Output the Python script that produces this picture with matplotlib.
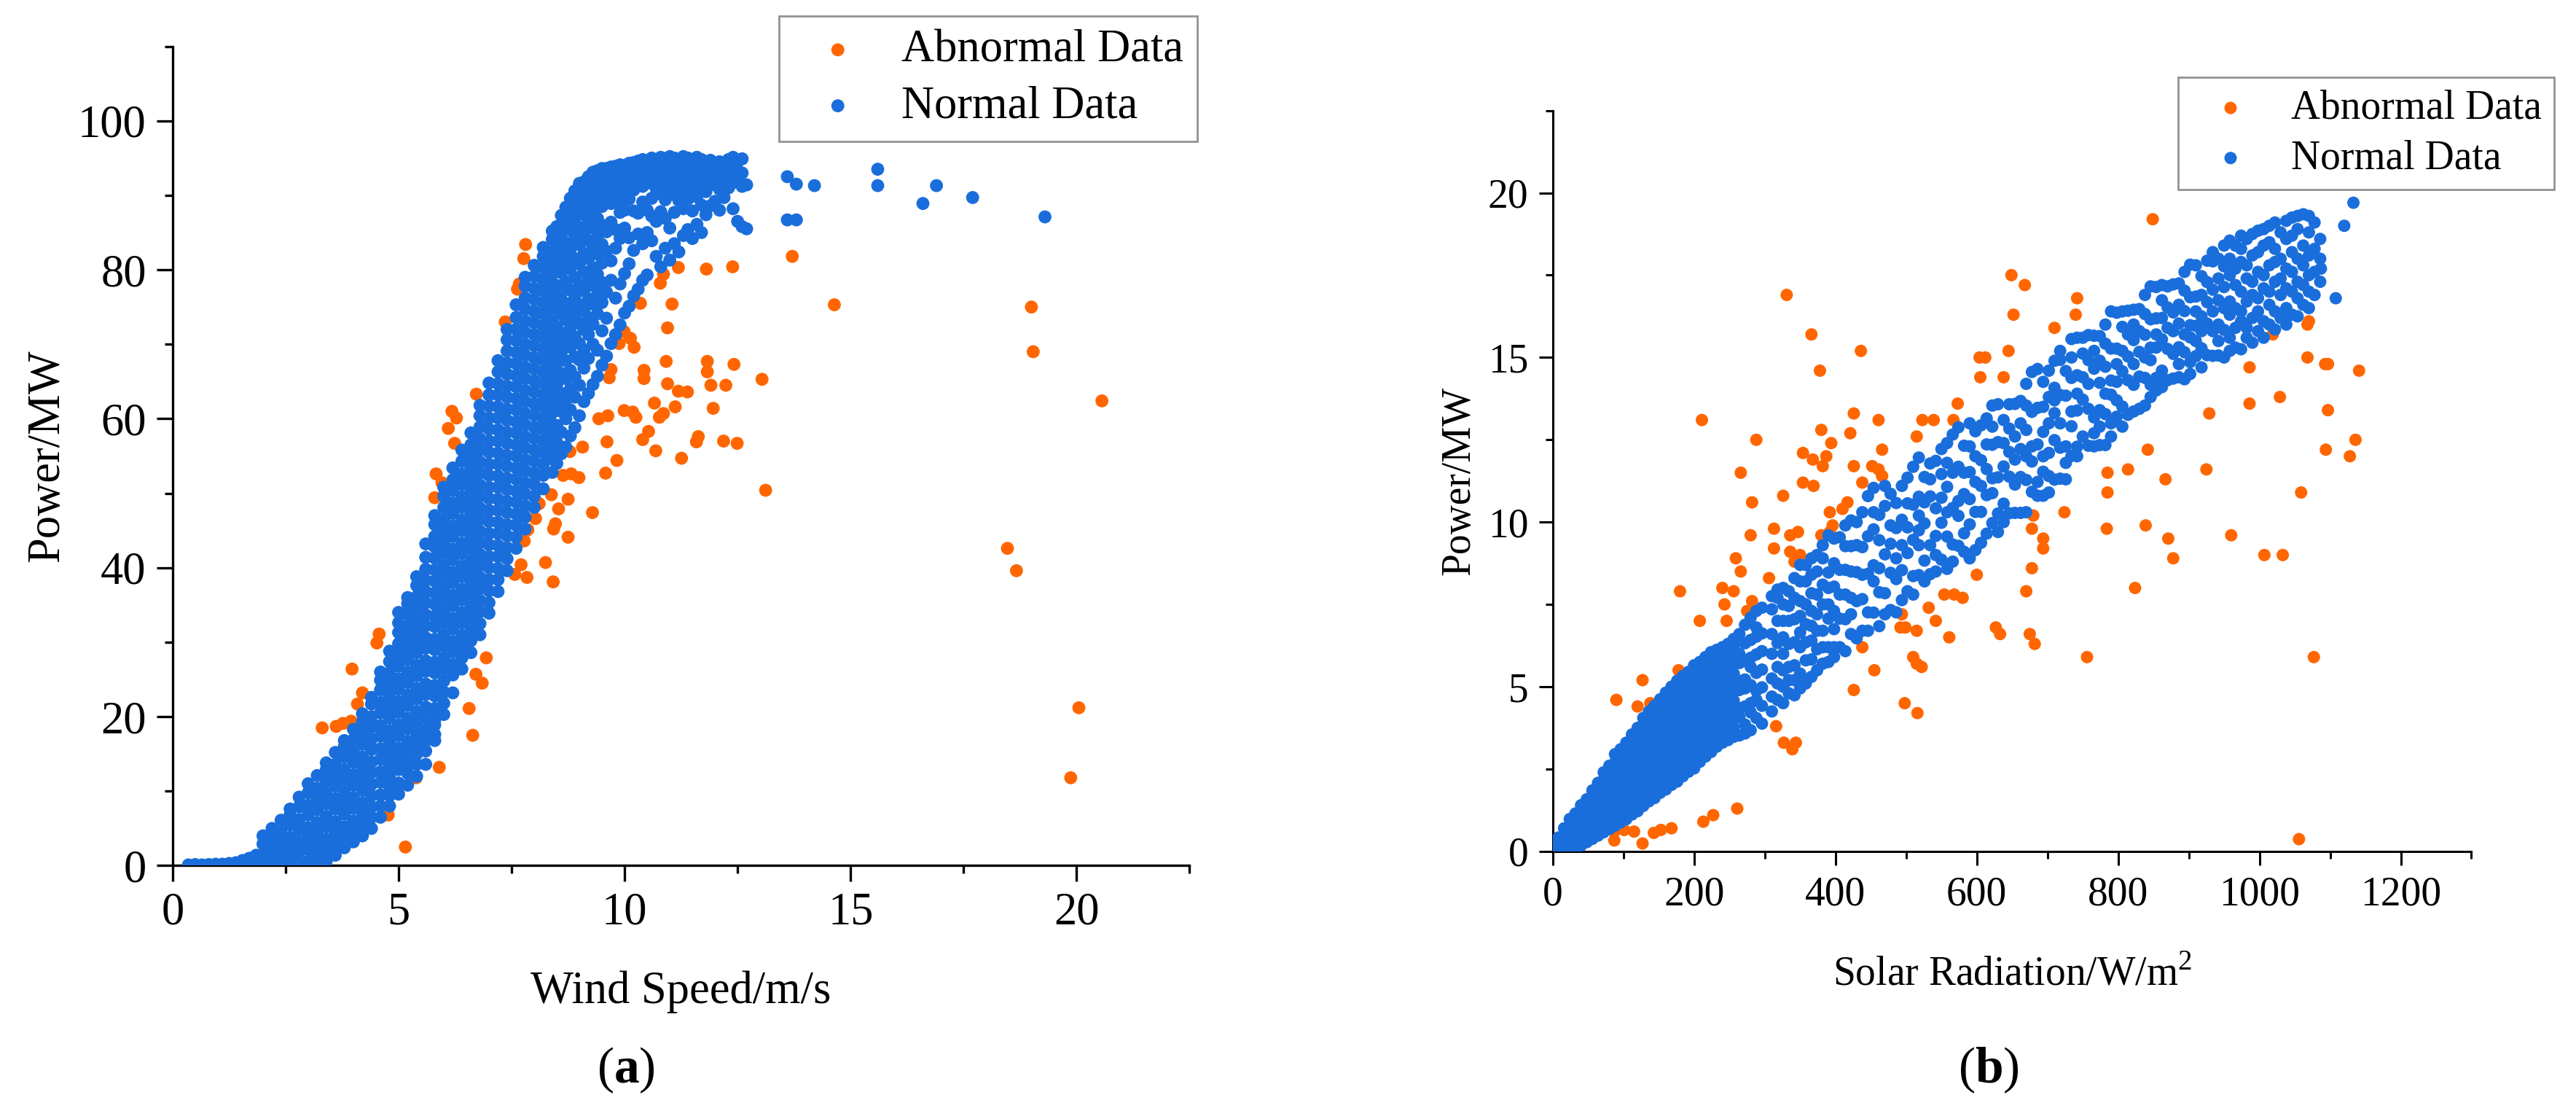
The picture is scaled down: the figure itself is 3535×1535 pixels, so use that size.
import matplotlib
matplotlib.use("Agg")
import matplotlib.pyplot as plt
from matplotlib.ticker import FixedLocator

plt.rcParams["font.family"] = ["Liberation Serif", "DejaVu Serif"]
plt.rcParams["mathtext.fontset"] = "custom"
plt.rcParams["mathtext.rm"] = "Liberation Serif"
plt.rcParams["mathtext.bf"] = "Liberation Serif:bold"

ORANGE = "#FF6600"
BLUE = "#1A6EDB"

# ---- (a) wind farm: wind speed (m/s) vs power (MW) ----
# abnormal points
wind_abnormal = [
    (3.31, 18.5), (3.62, 18.7), (3.77, 19.1), (3.95, 19.4), (4.09, 21.7), (4.20, 23.2),
    (3.97, 26.4), (4.52, 29.9), (4.57, 31.1), (4.77, 6.8), (5.15, 2.5), (5.39, 11.8),
    (5.90, 13.2), (6.64, 17.5), (6.56, 21.1), (6.85, 24.5), (6.71, 25.7), (6.94, 27.9),
    (5.80, 49.4), (5.96, 51.4), (5.83, 52.6), (6.24, 56.7), (6.10, 58.7), (6.18, 61.0),
    (6.28, 60.1), (6.72, 63.3), (7.36, 73.0), (7.63, 77.4), (7.67, 78.1), (7.77, 81.5),
    (7.81, 83.4), (7.57, 39.1), (7.71, 40.4), (7.84, 38.7), (8.25, 40.7), (8.42, 38.1),
    (7.78, 43.6), (7.86, 45.1), (8.03, 46.6), (8.11, 48.6), (8.38, 49.8), (8.43, 45.2),
    (8.47, 45.9), (8.54, 47.9), (8.75, 49.2), (8.75, 44.1), (8.64, 52.4), (8.82, 52.6),
    (8.99, 52.1), (8.79, 55.6), (9.07, 56.2), (9.29, 47.4), (9.58, 52.7), (9.61, 56.9),
    (9.83, 54.4), (10.40, 57.2), (10.69, 55.7), (10.53, 58.3), (9.43, 60.0), (9.63, 60.4),
    (9.66, 65.5), (9.70, 66.6), (9.88, 70.1), (9.99, 71.7), (10.13, 70.8), (10.21, 69.6),
    (9.99, 61.1), (10.18, 60.9), (10.25, 60.2), (10.43, 65.4), (10.43, 66.5), (10.66, 62.1),
    (10.77, 60.2), (10.86, 60.7), (10.35, 75.5), (10.79, 78.2), (10.86, 79.4), (11.19, 80.3),
    (11.05, 75.4), (10.95, 72.2), (10.92, 67.7), (10.95, 64.7), (11.12, 61.6), (11.19, 63.7),
    (11.26, 54.7), (11.39, 63.6), (11.59, 56.9), (11.63, 57.6), (11.96, 61.4), (11.91, 64.5),
    (11.83, 66.3), (11.83, 67.7), (12.24, 64.5), (12.19, 57.0), (12.49, 56.7), (12.42, 67.3),
    (11.81, 80.1), (12.39, 80.4), (13.04, 65.3), (13.12, 50.4), (13.71, 81.8), (14.64, 75.3),
    (19.00, 75.0), (19.04, 69.0), (20.56, 62.4), (18.47, 42.6), (18.67, 39.6), (20.05, 21.2),
    (19.87, 11.8),
]

# normal points below cut-in
wind_tail = [
    (0.35, 0.1), (0.5, 0.15), (0.65, 0.1), (0.8, 0.15), (0.95, 0.2), (1.1, 0.2), (1.25, 0.3),
    (1.4, 0.4), (1.5, 0.1), (1.55, 0.7), (1.65, 0.3), (1.7, 1.0), (1.8, 0.2), (1.85, 1.4),
    (1.9, 0.6),
]

# normal points, rising part: speed bins and the powers seen in each bin
wind_bins_rise = [2.0, 2.2, 2.4, 2.6, 2.8, 3.0, 3.2, 3.4, 3.6, 3.8, 4.0, 4.2, 4.4, 4.6,
                  4.8, 5.0, 5.2, 5.4, 5.6, 5.8]
wind_pow_rise = [
    [0.2, 1.4, 2.9, 4.0],
    [0.1, 0.9, 2.2, 3.8, 5.0],
    [0.2, 1.7, 3.0, 4.5, 6.1],
    [0.1, 1.0, 2.5, 3.8, 5.5, 6.8, 7.6],
    [0.3, 1.8, 3.1, 4.7, 6.2, 7.9, 9.2],
    [0.2, 0.6, 2.2, 3.6, 5.1, 6.8, 8.1, 9.8, 11.0],
    [0.2, 1.3, 2.9, 4.4, 5.8, 7.5, 9.0, 10.4, 12.1],
    [0.6, 2.0, 3.5, 5.2, 6.6, 8.3, 9.7, 11.3, 12.9, 13.8],
    [1.4, 2.9, 4.3, 5.9, 7.6, 9.0, 10.7, 12.1, 13.6, 15.2],
    [2.4, 3.8, 5.2, 6.9, 8.3, 9.9, 11.5, 12.9, 14.6, 16.0, 16.8],
    [3.2, 4.6, 6.0, 7.7, 9.1, 10.8, 12.2, 13.9, 15.3, 16.9, 18.3],
    [4.0, 5.5, 7.0, 8.4, 10.1, 11.5, 13.1, 14.6, 16.3, 17.7, 19.3, 20.4],
    [5.0, 6.5, 7.9, 9.4, 10.9, 12.5, 13.9, 15.6, 17.0, 18.6, 20.0, 21.7, 22.6],
    [6.5, 8.0, 9.5, 11.2, 12.6, 14.3, 15.7, 17.4, 18.8, 20.5, 21.9, 23.6, 24.9, 26.0],
    [8.0, 9.4, 10.6, 12.1, 13.5, 15.1, 16.7, 18.1, 19.8, 21.2, 22.8, 24.3, 25.9, 27.4, 28.8],
    [9.6, 11.1, 12.9, 14.3, 15.8, 17.5, 18.9, 20.6, 22.0, 23.7, 25.1, 26.8, 28.2, 29.8, 31.3,
     32.6, 34.0],
    [10.8, 12.4, 13.8, 15.3, 16.7, 18.4, 19.8, 21.5, 22.9, 24.6, 26.0, 27.7, 29.1, 30.7, 32.2,
     33.8, 35.2, 36.0],
    [12.0, 13.6, 15.0, 16.2, 17.7, 19.3, 20.7, 22.4, 23.8, 25.5, 26.9, 28.6, 30.0, 31.6, 33.1,
     34.7, 36.1, 37.6, 38.8],
    [13.6, 15.4, 16.8, 18.3, 19.9, 21.3, 23.0, 24.4, 26.1, 27.5, 29.2, 30.6, 32.2, 33.7, 35.3,
     36.8, 38.3, 39.8, 41.4, 43.2],
    [16.8, 17.6, 18.9, 19.6, 21.1, 22.8, 24.2, 25.9, 27.3, 29.0, 30.4, 32.1, 33.5, 35.1, 36.6,
     38.2, 39.7, 41.3, 42.8, 44.2, 45.8, 47.0],
]

wind_bins_mid = [6.0, 6.2, 6.4, 6.6, 6.8, 7.0, 7.2, 7.4, 7.6, 7.8, 8.0, 8.2, 8.4]
wind_pow_mid = [
    [20.3, 21.8, 23.3, 24.8, 26.4, 27.9, 29.5, 31.0, 32.6, 34.1, 35.7, 37.2, 38.8, 40.3, 41.9,
     43.4, 45.0, 46.5, 48.1, 49.6, 50.8],
    [23.2, 25.6, 27.0, 28.7, 30.1, 31.8, 33.2, 34.9, 36.3, 38.0, 39.4, 41.1, 42.5, 44.2, 45.6,
     47.3, 48.7, 50.4, 51.8, 53.4],
    [26.4, 27.9, 29.5, 30.9, 32.6, 34.0, 35.7, 37.1, 38.8, 40.2, 41.9, 43.3, 45.0, 46.4, 48.1,
     49.5, 51.2, 52.6, 54.3, 55.8],
    [28.6, 30.2, 31.7, 33.3, 34.8, 36.4, 37.9, 39.5, 41.0, 42.6, 44.1, 45.7, 47.2, 48.8, 50.3,
     51.9, 53.4, 55.0, 56.5, 58.1],
    [31.0, 32.5, 34.1, 35.6, 37.2, 38.7, 40.3, 41.8, 43.4, 44.9, 46.5, 48.0, 49.6, 51.1, 52.7,
     54.2, 55.8, 57.3, 58.9, 60.4, 61.8],
    [33.9, 35.3, 36.9, 38.4, 40.0, 41.5, 43.1, 44.6, 46.2, 47.7, 49.3, 50.8, 52.4, 53.9, 55.5,
     57.0, 58.6, 60.1, 61.7, 63.2, 64.8],
    [36.8, 38.4, 39.9, 41.5, 43.0, 44.6, 46.1, 47.7, 49.2, 50.8, 52.3, 53.9, 55.4, 57.0, 58.5,
     60.1, 61.6, 63.2, 64.7, 66.3, 67.8],
    [39.6, 41.2, 42.7, 44.3, 45.8, 47.4, 48.9, 50.5, 52.0, 53.6, 55.1, 56.7, 58.2, 59.8, 61.3,
     62.9, 64.4, 66.0, 67.5, 69.1, 70.6, 72.0],
    [42.6, 44.1, 45.7, 47.2, 48.8, 50.3, 51.9, 53.4, 55.0, 56.5, 58.1, 59.6, 61.2, 62.7, 64.3,
     65.8, 67.4, 68.9, 70.5, 72.0, 73.6, 75.3],
    [45.2, 46.8, 48.3, 49.9, 51.4, 53.0, 54.5, 56.1, 57.6, 59.2, 60.7, 62.3, 63.8, 65.4, 66.9,
     68.5, 70.0, 71.6, 73.1, 74.7, 76.2, 77.8, 79.0],
    [48.1, 49.6, 51.2, 52.7, 54.3, 55.8, 57.4, 58.9, 60.5, 62.0, 63.6, 65.1, 66.7, 68.2, 69.8,
     71.3, 72.9, 74.4, 76.0, 77.5, 79.1, 80.6],
    [50.6, 52.4, 53.9, 55.5, 57.0, 58.6, 60.1, 61.7, 63.2, 64.8, 66.3, 67.9, 69.4, 71.0, 72.5,
     74.1, 75.6, 77.2, 78.7, 80.3, 81.8, 83.0],
    [52.8, 54.6, 56.2, 57.7, 59.3, 60.8, 62.4, 63.9, 65.5, 67.0, 68.6, 70.1, 71.7, 73.2, 74.8,
     76.3, 77.9, 79.4, 81.0, 82.5, 84.1, 85.2],
]

wind_bins_top = [8.5, 8.6, 8.7, 8.8, 8.9, 9.0, 9.1, 9.2, 9.3, 9.4, 9.5, 9.6, 9.7, 9.8, 9.9,
                 10.0, 10.1, 10.2, 10.3, 10.4, 10.5, 10.6, 10.7, 10.8, 10.9, 11.0, 11.1, 11.2,
                 11.3, 11.4, 11.5, 11.6, 11.7, 11.8, 11.9, 12.0, 12.1, 12.2, 12.3, 12.4, 12.5,
                 12.6, 12.7]
wind_pow_top = [
    [54.0, 56.8, 59.1, 62.3, 64.6, 67.5, 70.2, 72.4, 75.6, 77.9, 80.7, 83.1, 85.8],
    [55.3, 58.2, 61.0, 63.4, 66.1, 69.0, 71.5, 74.1, 76.8, 79.6, 82.0, 84.7, 87.3],
    [56.2, 60.0, 62.5, 65.4, 67.8, 70.6, 73.3, 75.5, 78.4, 81.2, 83.6, 86.2, 88.4],
    [57.7, 61.2, 64.0, 66.5, 69.6, 72.2, 74.8, 77.3, 80.1, 82.7, 85.3, 87.8, 89.6],
    [58.8, 62.9, 65.6, 68.3, 71.0, 73.7, 76.4, 79.0, 81.5, 84.2, 86.9, 89.1, 90.6],
    [60.4, 64.5, 67.9, 70.1, 72.8, 75.3, 78.0, 80.8, 83.4, 85.7, 88.3, 90.4, 91.6],
    [62.3, 66.8, 69.2, 72.0, 74.5, 77.2, 79.7, 82.2, 84.9, 87.4, 89.7, 91.8],
    [63.4, 68.1, 71.3, 73.6, 76.1, 78.8, 81.5, 83.9, 86.5, 88.9, 91.1, 92.5],
    [64.6, 70.0, 72.7, 75.4, 77.9, 80.3, 83.0, 85.6, 87.9, 90.3, 92.2, 93.1],
    [65.7, 69.2, 74.1, 76.7, 79.4, 82.1, 84.5, 86.9, 89.5, 91.6, 93.3],
    [67.2, 71.8, 75.6, 78.3, 80.9, 83.4, 86.0, 88.5, 90.7, 92.6, 93.6],
    [68.4, 73.5, 77.0, 82.5, 85.1, 89.8, 91.9, 93.6],
    [70.1, 78.6, 81.2, 86.4, 88.9, 90.9, 92.8, 93.8],
    [71.3, 76.2, 82.9, 85.4, 90.1, 92.0, 93.9],
    [72.6, 78.1, 84.2, 87.7, 89.2, 91.3, 93.2, 94.1],
    [74.2, 79.5, 85.6, 88.0, 90.4, 92.5, 94.0],
    [75.1, 80.8, 84.3, 89.5, 91.6, 93.4, 94.3],
    [76.5, 82.6, 87.9, 90.7, 92.6, 94.4],
    [77.4, 84.8, 87.6, 91.9, 93.7, 94.6],
    [78.6, 83.5, 89.1, 91.2, 93.1, 94.8],
    [79.3, 85.0, 88.0, 92.4, 94.2],
    [83.9, 87.2, 89.6, 91.6, 93.5, 95.0],
    [81.8, 86.5, 90.9, 92.9, 94.6],
    [80.4, 87.8, 90.2, 92.2, 93.9, 95.1],
    [82.9, 86.9, 89.4, 91.5, 93.4, 94.9],
    [81.3, 85.6, 90.8, 92.7, 94.3, 95.2],
    [83.5, 87.7, 90.1, 92.1, 93.8, 95.0],
    [82.4, 89.3, 91.4, 93.2, 94.7],
    [84.6, 88.2, 90.6, 92.6, 94.3, 95.2],
    [85.4, 89.5, 91.8, 93.6, 95.0],
    [84.2, 87.9, 90.9, 92.9, 94.5],
    [86.1, 89.8, 92.2, 94.0, 95.1],
    [85.0, 88.7, 91.3, 93.3, 94.8],
    [87.4, 90.5, 92.7, 94.4],
    [88.6, 91.4, 93.5, 94.7],
    [89.2, 91.9, 93.8],
    [88.0, 90.8, 93.0, 94.5],
    [89.7, 92.3, 94.2],
    [91.0, 93.1, 94.8],
    [88.2, 91.7, 93.6, 95.1],
    [86.5, 92.4, 94.5],
    [85.8, 91.2, 93.0, 94.9],
    [85.5, 91.4],
]

# isolated normal points past rated speed
wind_sparse = [
    (13.6, 86.7), (13.8, 86.7), (13.6, 92.5), (13.8, 91.5), (14.2, 91.3), (15.6, 93.5),
    (15.6, 91.3), (16.6, 88.9), (16.9, 91.3), (17.7, 89.7), (19.3, 87.1),
]

# ---- (b) PV plant: solar radiation (W/m2) vs power (MW) ----
solar_abnormal = [
    (849, 19.2), (649, 17.5), (668, 17.2), (331, 16.9), (742, 16.8), (652, 16.3), (740, 16.3),
    (710, 15.9), (1070, 16.1), (1068, 16.0), (366, 15.7), (1019, 15.7), (436, 15.2), (645, 15.2),
    (604, 15.0), (612, 15.0), (1068, 15.0), (1093, 14.8), (1097, 14.8), (986, 14.7), (1141, 14.6),
    (378, 14.6), (605, 14.4), (638, 14.4), (1029, 13.8), (986, 13.6), (573, 13.6), (1097, 13.4),
    (426, 13.3), (929, 13.3), (523, 13.1), (539, 13.1), (211, 13.1), (461, 13.1), (567, 13.1),
    (380, 12.8), (421, 12.7), (515, 12.6), (288, 12.5), (1136, 12.5), (394, 12.4), (466, 12.2),
    (354, 12.1), (842, 12.2), (1094, 12.2), (1128, 12.0), (368, 11.9), (387, 12.0), (382, 11.7),
    (426, 11.7), (452, 11.7), (461, 11.6), (814, 11.6), (925, 11.6), (266, 11.5), (785, 11.5),
    (466, 11.4), (354, 11.2), (369, 11.1), (438, 11.2), (867, 11.3), (1059, 10.9), (785, 10.9),
    (326, 10.8), (282, 10.6), (417, 10.6), (410, 10.4), (392, 10.3), (724, 10.3), (680, 10.2),
    (396, 9.9), (839, 9.9), (678, 9.8), (784, 9.8), (313, 9.8), (347, 9.7), (280, 9.6),
    (336, 9.6), (380, 9.6), (960, 9.6), (871, 9.5), (392, 9.7), (694, 9.5), (313, 9.2),
    (694, 9.2), (336, 9.1), (350, 9.0), (1007, 9.0), (1033, 9.0), (878, 8.9), (259, 8.9),
    (342, 8.8), (266, 8.5), (678, 8.6), (306, 8.3), (600, 8.4), (824, 8.0), (240, 8.0),
    (180, 7.9), (256, 7.9), (670, 7.9), (554, 7.8), (568, 7.8), (580, 7.7), (282, 7.6),
    (243, 7.5), (275, 7.3), (532, 7.4), (208, 7.0), (246, 7.0), (494, 7.2), (542, 7.0),
    (627, 6.8), (633, 6.6), (492, 6.8), (499, 6.8), (675, 6.6), (515, 6.7), (561, 6.5),
    (682, 6.3), (438, 6.2), (756, 5.9), (1077, 5.9), (510, 5.9), (515, 5.7), (522, 5.6),
    (455, 5.5), (178, 5.5), (127, 5.2), (426, 4.9), (90, 4.6), (138, 4.5), (120, 4.4),
    (498, 4.5), (516, 4.2), (316, 3.8), (327, 3.3), (344, 3.3), (339, 3.1), (261, 1.3),
    (227, 1.1), (213, 0.9), (87, 0.6), (101, 0.65), (115, 0.6), (168, 0.7), (153, 0.65),
    (143, 0.56), (127, 0.24), (87, 0.33), (1056, 0.37),
]

# normal points, low irradiance: irradiance bins and the powers seen in each bin
solar_bins_low = [0, 8, 16, 24, 32, 40, 48, 56, 64, 72, 80, 88, 96, 104, 112, 120, 128, 136,
                  144, 152, 160, 168, 176, 184, 192, 200, 208, 216, 224, 232, 240, 248, 256,
                  264, 272, 280, 288, 296]
solar_pow_low = [
    [0.05, 0.25],
    [0.02, 0.2, 0.42],
    [0.08, 0.3, 0.52, 0.7],
    [0.05, 0.25, 0.5, 0.75, 0.98],
    [0.12, 0.38, 0.62, 0.88, 1.15],
    [0.18, 0.45, 0.7, 0.95, 1.2, 1.4],
    [0.28, 0.52, 0.8, 1.05, 1.3, 1.58],
    [0.38, 0.62, 0.9, 1.15, 1.42, 1.68, 1.85],
    [0.48, 0.75, 1.0, 1.28, 1.55, 1.8, 2.08],
    [0.58, 0.85, 1.12, 1.38, 1.65, 1.92, 2.18, 2.4],
    [0.68, 0.95, 1.22, 1.5, 1.75, 2.02, 2.3, 2.6],
    [0.78, 1.05, 1.32, 1.6, 1.88, 2.15, 2.42, 2.7, 2.95],
    [0.88, 1.15, 1.42, 1.7, 1.98, 2.25, 2.52, 2.8, 3.1],
    [0.98, 1.25, 1.52, 1.8, 2.08, 2.35, 2.62, 2.9, 3.18, 3.3],
    [1.12, 1.38, 1.65, 1.92, 2.2, 2.48, 2.75, 3.02, 3.3, 3.55],
    [1.22, 1.5, 1.78, 2.05, 2.32, 2.6, 2.88, 3.15, 3.42, 3.75],
    [1.38, 1.65, 1.92, 2.2, 2.48, 2.75, 3.02, 3.3, 3.58, 3.85, 4.05],
    [1.52, 1.8, 2.08, 2.35, 2.62, 2.9, 3.18, 3.45, 3.72, 4.0, 4.25],
    [1.62, 1.9, 2.18, 2.45, 2.72, 3.0, 3.28, 3.55, 3.82, 4.1, 4.42],
    [1.78, 2.05, 2.32, 2.6, 2.88, 3.15, 3.42, 3.7, 3.98, 4.25, 4.62],
    [1.88, 2.15, 2.42, 2.7, 2.98, 3.25, 3.52, 3.8, 4.08, 4.35, 4.62, 4.82],
    [2.02, 2.3, 2.58, 2.85, 3.12, 3.4, 3.68, 3.95, 4.22, 4.5, 4.78, 5.0],
    [2.12, 2.4, 2.68, 2.95, 3.22, 3.5, 3.78, 4.05, 4.32, 4.6, 4.88, 5.18],
    [2.28, 2.55, 2.82, 3.1, 3.38, 3.65, 3.92, 4.2, 4.48, 4.75, 5.02, 5.32],
    [2.42, 2.7, 2.98, 3.25, 3.52, 3.8, 4.08, 4.35, 4.62, 4.9, 5.18, 5.45],
    [2.52, 2.8, 3.08, 3.35, 3.62, 3.9, 4.18, 4.45, 4.72, 5.0, 5.28, 5.65],
    [2.72, 3.0, 3.28, 3.55, 3.82, 4.1, 4.38, 4.65, 4.92, 5.2, 5.48, 5.75],
    [2.88, 3.15, 3.42, 3.7, 3.98, 4.25, 4.52, 4.8, 5.08, 5.35, 5.62, 5.9],
    [3.02, 3.3, 3.58, 3.85, 4.12, 4.4, 4.68, 4.95, 5.22, 5.5, 5.78, 6.05],
    [3.18, 3.45, 3.72, 4.0, 4.28, 4.55, 4.82, 5.1, 5.38, 5.65, 5.92, 6.12],
    [3.3, 3.58, 3.85, 4.12, 4.4, 4.68, 4.95, 5.22, 5.5, 5.78, 6.05, 6.2],
    [3.38, 3.65, 3.92, 4.2, 4.48, 4.75, 5.02, 5.3, 5.58, 5.85, 6.12, 6.3],
    [3.48, 3.75, 4.02, 4.3, 4.58, 4.85, 5.12, 5.4, 5.68, 5.95, 6.22, 6.45],
    [3.52, 4.08, 4.35, 4.9, 5.18, 5.72, 6.0, 6.6],
    [3.58, 3.85, 4.4, 4.95, 5.22, 5.78, 6.32, 6.88],
    [3.68, 4.22, 4.5, 5.05, 5.6, 5.88, 6.42, 7.1],
    [4.05, 4.6, 4.88, 5.42, 5.98, 6.52, 6.8, 7.3],
    [3.88, 4.42, 4.98, 5.52, 6.08, 6.62, 7.4],
]

solar_bins_mid = [310, 318, 326, 334, 342, 350, 358, 366, 374, 382, 390, 398, 406, 414, 422,
                  430, 438, 446, 454, 462, 470, 478, 486, 494, 502, 510, 518, 526, 534, 542,
                  550, 558, 566, 574, 582, 590, 598, 606, 614, 622, 630, 638, 646, 654, 662,
                  670, 678, 686, 694, 702]
solar_pow_mid = [
    [4.25, 4.7, 5.25, 6.0, 6.6, 7.35, 7.75], [4.6, 5.1, 5.6, 6.33, 7.0, 7.7, 7.95],
    [4.5, 5.0, 5.5, 6.0, 6.5, 7.0, 7.5, 8.0], [4.8, 5.2, 5.6, 6.3, 7.0, 7.45, 7.9],
    [4.74, 5.2, 5.65, 6.35, 7.05, 7.7, 8.3], [4.95, 5.4, 6.2, 6.65, 7.15, 7.6, 8.2, 8.7],
    [5.1, 5.8, 6.35, 6.9, 7.5, 8.2, 8.7], [5.3, 5.83, 6.4, 6.85, 7.3, 7.84, 8.4, 8.9],
    [5.5, 6.14, 6.7, 7.2, 7.8, 8.5, 9.0], [5.7, 6.2, 6.7, 7.5, 8.1, 8.9, 9.3],
    [5.75, 6.2, 7.07, 7.5, 8.0, 8.47, 9.6], [5.9, 6.2, 6.75, 7.3, 8.04, 8.75, 9.5],
    [6.2, 7.07, 7.8, 8.55, 9.54], [6.08, 7.05, 7.8, 8.55, 9.27, 9.9],
    [6.6, 7.2, 7.7, 8.5, 9.27, 10.05], [6.47, 7.6, 8.48, 9.3, 10.0],
    [6.7, 7.66, 8.4, 9.24, 10.3], [6.7, 7.26, 8.43, 9.57, 10.79],
    [7.25, 8.2, 8.69, 9.78, 10.3, 11.04], [6.84, 7.87, 8.6, 9.45, 10.22],
    [7.2, 7.84, 9.02, 10.49, 11.1], [7.33, 8.46, 9.34, 9.9, 10.86],
    [7.26, 8.27, 8.9, 9.82, 10.58], [7.63, 8.54, 9.3, 10.07, 11.1],
    [7.9, 9.06, 9.84, 10.57, 11.35], [7.8, 8.36, 9.46, 10.53, 11.68],
    [8.39, 9.3, 9.75, 10.2, 10.77, 11.96], [8.2, 8.83, 9.96, 10.6, 11.37],
    [8.42, 9.3, 10.78, 11.3, 11.78], [8.5, 9.0, 9.58, 10.42, 11.86],
    [8.86, 9.98, 10.74, 11.46, 12.22], [8.58, 9.56, 10.3, 11.07, 11.8, 12.4],
    [8.8, 9.32, 10.43, 11.5, 12.66], [9.28, 10.19, 10.64, 11.68, 12.88],
    [9.1, 9.66, 10.85, 11.5, 12.32], [8.9, 9.93, 10.7, 11.52, 12.3, 13.0],
    [9.15, 10.31, 11.22, 12.0, 12.76], [9.37, 10.31, 11.1, 11.88, 12.94],
    [9.65, 10.82, 11.61, 12.36, 13.15], [9.97, 10.88, 11.33, 12.35, 12.9, 13.54],
    [9.7, 10.26, 11.36, 12.43, 13.58], [10.0, 10.56, 11.69, 12.4, 13.1],
    [10.27, 11.38, 12.13, 12.84, 13.58], [10.28, 11.14, 11.9, 12.6, 13.59],
    [10.28, 11.37, 12.22, 13.0, 13.68], [10.3, 11.28, 12.0, 12.8, 13.54, 14.2],
    [10.92, 11.84, 12.3, 13.35, 14.56], [10.8, 11.22, 12.36, 13.47, 14.65],
    [10.8, 11.53, 12.0, 12.74, 13.5, 14.26], [10.9, 11.4, 12.1, 13.0, 13.8, 14.6],
]

solar_bins_high = [710, 718, 726, 734, 742, 750, 758, 766, 774, 782, 790, 798, 806, 814, 822,
                   830, 838, 846, 854, 862, 870, 878, 886, 894, 902, 910, 918, 926, 934, 942,
                   950, 958, 966, 974, 982, 990, 998, 1006, 1014, 1022, 1030, 1038, 1046, 1054,
                   1062, 1070, 1078, 1086]
solar_pow_high = [
    [11.29, 12.49, 13.31, 13.7, 14.08, 14.9], [11.32, 12.26, 13.0, 13.86, 14.93, 15.2],
    [11.3, 11.8, 12.3, 13.84, 14.59], [12.01, 12.91, 13.36, 14.38, 15.0, 15.56],
    [12.0, 12.29, 13.39, 13.9, 14.46, 15.6], [12.6, 13.72, 14.4, 15.12, 15.6],
    [12.32, 13.44, 14.2, 14.92, 15.68], [12.3, 12.7, 13.18, 14.66, 15.2, 15.66],
    [12.34, 12.9, 13.4, 14.23, 14.9, 15.65], [12.34, 13.28, 13.9, 14.72, 15.42, 16.0],
    [12.6, 13.0, 13.87, 14.3, 15.27, 16.4], [13.2, 13.7, 14.26, 14.8, 15.27, 16.36],
    [12.9, 13.51, 14.58, 15.2, 15.93, 16.4], [13.26, 14.31, 15.03, 15.7, 16.42],
    [13.36, 14.17, 14.8, 15.53, 16.0, 16.45], [13.44, 14.42, 15.17, 15.8, 16.47],
    [13.54, 14.38, 15.0, 15.69, 16.32, 16.9], [13.8, 14.17, 14.92, 15.3, 16.16, 17.16],
    [14.0, 14.38, 15.3, 15.7, 16.19, 17.14], [14.1, 14.6, 15.55, 16.2, 16.74, 17.2],
    [14.31, 15.26, 15.9, 16.52, 17.16], [14.36, 15.11, 15.8, 16.37, 17.22],
    [14.4, 14.8, 15.31, 16.03, 16.6, 17.25], [14.34, 15.16, 15.7, 16.41, 17.03, 17.6],
    [14.5, 14.86, 15.61, 15.98, 16.83, 17.82], [15.04, 15.5, 15.96, 16.4, 16.85, 17.8],
    [14.7, 15.28, 15.8, 16.25, 16.9, 17.47], [15.07, 16.03, 16.68, 17.29, 17.94],
    [15.05, 15.8, 16.4, 17.06, 17.92, 18.2], [15.06, 15.5, 16.0, 16.74, 17.4, 18.0],
    [15.0, 15.84, 16.5, 17.14, 17.77, 18.4],
    [15.2, 15.6, 16.3, 16.7, 17.5, 18.0, 18.55], [15.3, 15.9, 16.5, 17.2, 17.7, 18.4],
    [15.25, 16.1, 16.4, 17.0, 17.9, 18.3, 18.7], [15.6, 15.9, 16.7, 17.4, 17.8, 18.6],
    [15.45, 16.2, 16.9, 17.3, 18.1, 18.75], [15.8, 16.4, 16.8, 17.6, 18.2, 18.85],
    [15.6, 16.1, 17.1, 17.5, 18.4, 18.9], [16.0, 16.6, 17.0, 17.8, 18.5, 19.0],
    [15.85, 16.4, 17.3, 17.9, 18.3, 19.1], [16.2, 16.9, 17.4, 18.0, 18.8],
    [16.0, 16.5, 17.1, 17.7, 18.6, 19.15], [16.3, 17.0, 17.6, 18.2, 18.7, 19.25],
    [16.25, 16.8, 17.3, 18.0, 18.9, 19.3], [16.6, 17.2, 17.8, 18.4, 19.35],
    [16.5, 17.0, 17.5, 18.1, 18.8, 19.3], [16.9, 17.6, 18.3, 19.1], [17.3, 18.0, 18.6],
]

solar_sparse = [(1087, 17.7), (1108, 16.8), (1120, 19.0), (1133, 19.7)]


def split(points):
    xs = [p[0] for p in points]
    ys = [p[1] for p in points]
    return xs, ys


def unbin(bins, values):
    # one point per listed value in each bin
    xs, ys = [], []
    for b, vals in zip(bins, values):
        for v in vals:
            xs.append(b)
            ys.append(v)
    return xs, ys


def styleAxes(ax, fs, lw, major_len, minor_len):
    ax.spines["top"].set_visible(False)
    ax.spines["right"].set_visible(False)
    for side in ["left", "bottom"]:
        ax.spines[side].set_linewidth(lw)
    ax.tick_params(which="both", direction="out", width=lw, labelsize=fs)
    ax.tick_params(which="major", length=major_len, pad=10)
    ax.tick_params(which="minor", length=minor_len)


fig = plt.figure(figsize=(35.35, 15.35), dpi=100)

# panel (a)
ax1 = fig.add_axes([0.0670, 0.2264, 0.3948, 0.7322])
xa, ya = split(wind_abnormal)
ax1.scatter(xa, ya, s=165, color=ORANGE, edgecolors="none", label="Abnormal Data", zorder=2)
xn, yn = split(wind_tail + wind_sparse)
for bins, vals in [(wind_bins_rise, wind_pow_rise), (wind_bins_mid, wind_pow_mid),
                   (wind_bins_top, wind_pow_top)]:
    bx, by = unbin(bins, vals)
    xn += bx
    yn += by
ax1.scatter(xn, yn, s=165, color=BLUE, edgecolors="none", label="Normal Data", zorder=3)
ax1.set_xlim(0, 22.5)
ax1.set_ylim(0, 110)
ax1.xaxis.set_major_locator(FixedLocator([0, 5, 10, 15, 20]))
ax1.xaxis.set_minor_locator(FixedLocator([2.5, 7.5, 12.5, 17.5, 22.5]))
ax1.yaxis.set_major_locator(FixedLocator([0, 20, 40, 60, 80, 100]))
ax1.yaxis.set_minor_locator(FixedLocator([10, 30, 50, 70, 90, 110]))
styleAxes(ax1, 45, 2.4, 16, 8)
ax1.set_xlabel("Wind Speed/m/s", fontsize=45, labelpad=36)
ax1.set_ylabel("Power/MW", fontsize=45, labelpad=9)
leg1 = ax1.legend(loc="upper right", bbox_to_anchor=(1643 / 3535, 1 - 22 / 1535),
                  bbox_transform=fig.transFigure, fontsize=45, frameon=True, fancybox=False,
                  borderpad=0.3, handlelength=2.0, handletextpad=0.4, labelspacing=0.3,
                  borderaxespad=0, scatterpoints=1, markerscale=1.0)
leg1.get_frame().set_edgecolor("#777777")
leg1.get_frame().set_linewidth(2)

# panel (b)
ax2 = fig.add_axes([0.6028, 0.2392, 0.3566, 0.6620])
xa, ya = split(solar_abnormal)
ax2.scatter(xa, ya, s=150, color=ORANGE, edgecolors="none", label="Abnormal Data", zorder=2)
xn, yn = split(solar_sparse)
for bins, vals in [(solar_bins_low, solar_pow_low), (solar_bins_mid, solar_pow_mid),
                   (solar_bins_high, solar_pow_high)]:
    bx, by = unbin(bins, vals)
    xn += bx
    yn += by
ax2.scatter(xn, yn, s=150, color=BLUE, edgecolors="none", label="Normal Data", zorder=3)
ax2.set_xlim(0, 1300)
ax2.set_ylim(0, 22.5)
ax2.xaxis.set_major_locator(FixedLocator([0, 200, 400, 600, 800, 1000, 1200]))
ax2.xaxis.set_minor_locator(FixedLocator([100, 300, 500, 700, 900, 1100, 1300]))
ax2.yaxis.set_major_locator(FixedLocator([0, 5, 10, 15, 20]))
ax2.yaxis.set_minor_locator(FixedLocator([2.5, 7.5, 12.5, 17.5, 22.5]))
styleAxes(ax2, 40, 2.2, 14, 7)
ax2.set_xlabel("Solar Radiation/W/m$^{2}$", fontsize=40, labelpad=42)
ax2.set_ylabel("Power/MW", fontsize=40, labelpad=10)
leg2 = ax2.legend(loc="upper right", bbox_to_anchor=(3505 / 3535, 1 - 106 / 1535),
                  bbox_transform=fig.transFigure, fontsize=40, frameon=True, fancybox=False,
                  borderpad=0.3, handlelength=2.0, handletextpad=0.5, labelspacing=0.3,
                  borderaxespad=0, scatterpoints=1, markerscale=1.0)
leg2.get_frame().set_edgecolor("#777777")
leg2.get_frame().set_linewidth(2)

fig.text(859 / 3535, 1 - 1468 / 1535, r"($\mathbf{a}$)", fontsize=50, ha="center", va="center")
fig.text(2729 / 3535, 1 - 1468 / 1535, r"($\mathbf{b}$)", fontsize=50, ha="center", va="center")

fig.savefig("out.png", dpi=100)
